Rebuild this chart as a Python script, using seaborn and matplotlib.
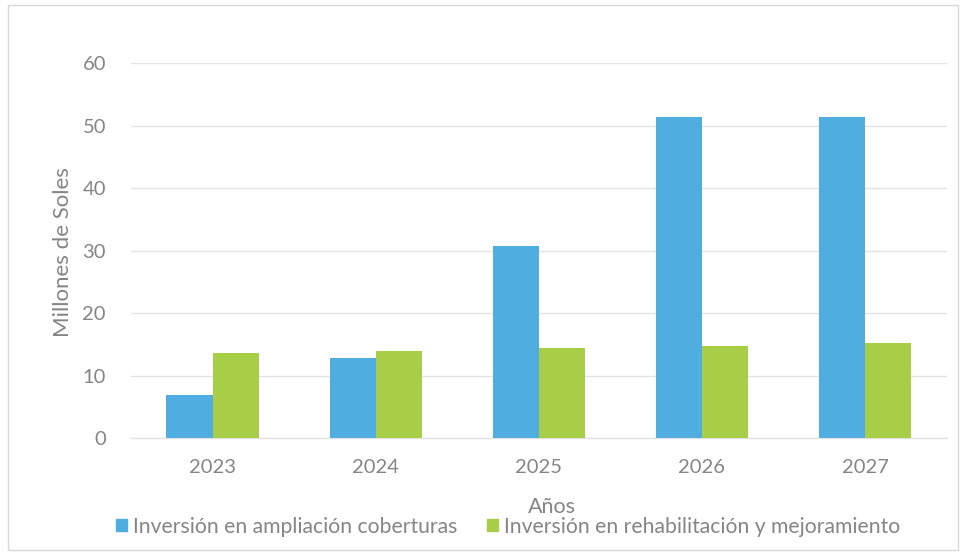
import matplotlib
matplotlib.use("Agg")
import matplotlib.pyplot as plt
from matplotlib.patches import Rectangle
import seaborn as sns
import pandas as pd

# Investment per year, in millions of soles
years = ["2023", "2024", "2025", "2026", "2027"]
ampliacion = [7.0, 12.8, 30.8, 51.3, 51.3]
rehabilitacion = [13.7, 13.9, 14.4, 14.8, 15.3]
series_names = ["Inversión en ampliación coberturas",
                "Inversión en rehabilitación y mejoramiento"]
y_ticks = [0, 10, 20, 30, 40, 50, 60]

df = pd.DataFrame({
    "Año": years * 2,
    "Serie": [series_names[0]] * len(years) + [series_names[1]] * len(years),
    "Valor": ampliacion + rehabilitacion,
})

sns.set_theme(style="white")
plt.rcParams["font.family"] = ["Lato", "DejaVu Sans"]

text_color = "#858585"
grid_color = "#e3e3e3"
palette = {series_names[0]: "#50ADDF", series_names[1]: "#A8CE48"}

fig = plt.figure(figsize=(9.66, 5.6), dpi=100)
ax = fig.add_axes([0.1356, 0.217, 0.980 - 0.1356, 0.8875 - 0.217])

sns.barplot(data=df, x="Año", y="Valor", hue="Serie", order=years,
            hue_order=series_names, palette=palette, width=0.565,
            gap=0, saturation=1, edgecolor="none", linewidth=0, ax=ax,
            zorder=3)

ax.set_ylim(0, 60)
ax.set_xlim(-0.5, len(years) - 0.5)
ax.set_yticks(y_ticks)
ax.set_yticklabels([str(t) for t in y_ticks])
ax.yaxis.grid(True, color=grid_color, linewidth=1.0, zorder=0)
ax.xaxis.grid(False)
ax.set_axisbelow(True)
for s in ["top", "right", "left"]:
    ax.spines[s].set_visible(False)
ax.spines["bottom"].set_color(grid_color)
ax.spines["bottom"].set_linewidth(1.0)
ax.tick_params(axis="both", length=0, labelsize=14.5, colors=text_color)
ax.tick_params(axis="x", pad=15)
ax.tick_params(axis="y", pad=18)

ax.set_ylabel("")
ax.set_xlabel("")
fig.text(63 / 966, 1 - 252 / 560, "Millones de Soles", rotation=90,
         ha="center", va="center", fontsize=16, color=text_color)
fig.text(552 / 966, 1 - 507 / 560, "Años", ha="center", va="center",
         fontsize=15.5, color=text_color)

ax.legend_.remove()
handles = [Rectangle((0, 0), 1, 1, color=palette[n]) for n in series_names]
fig.legend(handles, series_names, loc="center", bbox_to_anchor=(0.526, 0.059),
           ncol=2, frameon=False, fontsize=15.2, labelcolor=text_color,
           handlelength=0.5, handleheight=0.5, handletextpad=0.3,
           columnspacing=1.4, borderpad=0)

# light outer frame of the chart area
fig.patches.append(Rectangle((8 / 966, 10 / 560), 950 / 966, 545 / 560,
                             transform=fig.transFigure, fill=False,
                             edgecolor="#d9d9d9", linewidth=1.0))

fig.savefig("out.png", dpi=100, facecolor="white")
